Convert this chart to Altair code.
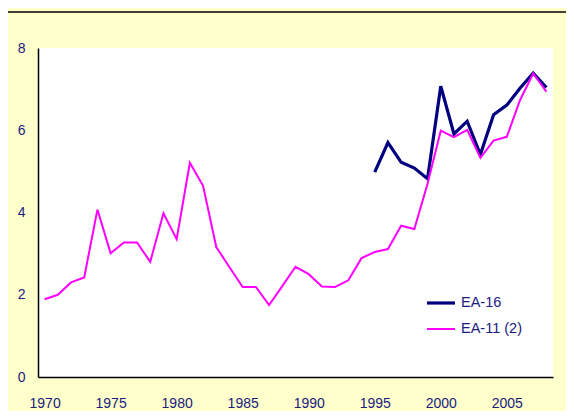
import altair as alt
import pandas as pd

years = list(range(1970, 2009))
ea11 = [1.89, 2.00, 2.30, 2.42, 4.07, 3.01, 3.27, 3.27, 2.80, 3.98,
        3.35, 5.21, 4.65, 3.16, 2.67, 2.19, 2.19, 1.75, 2.21, 2.68,
        2.50, 2.20, 2.19, 2.35, 2.89, 3.04, 3.11, 3.68, 3.60, 4.70,
        5.99, 5.83, 6.01, 5.33, 5.75, 5.84, 6.73, 7.38, 6.94]
ea16_years = list(range(1995, 2009))
ea16 = [4.98, 5.70, 5.22, 5.08, 4.82, 7.07, 5.91, 6.22, 5.41, 6.38,
        6.61, 7.02, 7.39, 7.04]

series_names = ["EA-16", "EA-11 (2)"]
series_colors = ["#000080", "#FF00FF"]
series_widths = [3.2, 2.0]
x_ticks = [1970, 1975, 1980, 1985, 1990, 1995, 2000, 2005]
y_ticks = [0, 2, 4, 6, 8]

df = pd.concat([
    pd.DataFrame({"year": ea16_years, "value": ea16, "series": series_names[0]}),
    pd.DataFrame({"year": years, "value": ea11, "series": series_names[1]}),
], ignore_index=True)

TEXT = "#1a1a80"
AXFONT = "Liberation Sans, Arial"

leg = dict(title=None, orient="none", legendX=387, legendY=242,
           symbolType="stroke", symbolSize=784, labelOffset=4,
           rowPadding=0, clipHeight=26, padding=0,
           labelFont="Liberation Sans, Arial", labelFontSize=14.5,
           labelColor=TEXT)

lines = alt.Chart(df).mark_line(strokeJoin="miter").encode(
    x=alt.X("year:Q",
            scale=alt.Scale(domain=[1969.5, 2008.5], nice=False, zero=False),
            axis=alt.Axis(values=x_ticks, format="d", ticks=False, tickSize=0,
                          grid=False, labelPadding=19, title=None,
                          domainColor="black", domainWidth=1.5)),
    y=alt.Y("value:Q",
            scale=alt.Scale(domain=[0, 8], nice=False),
            axis=alt.Axis(values=y_ticks, ticks=False, tickSize=0, grid=False,
                          labelPadding=13, title=None,
                          domainColor="black", domainWidth=1.5)),
    color=alt.Color("series:N",
                    scale=alt.Scale(domain=series_names, range=series_colors),
                    legend=alt.Legend(**leg)),
    strokeWidth=alt.StrokeWidth("series:N",
                                scale=alt.Scale(domain=series_names,
                                                range=series_widths),
                                legend=alt.Legend(**leg)),
    detail="series:N",
)

topline = alt.Chart(pd.DataFrame({"a": [0]})).mark_rule(
    color="black", strokeWidth=1.5).encode(
    x=alt.value(-30), x2=alt.value(528), y=alt.value(-36))

chart = alt.layer(lines, topline).properties(
    width=515, height=329,
    autosize=alt.AutoSizeParams(type="none"),
    padding={"left": 30, "top": 40, "right": 13, "bottom": 34},
    background="#FFFFCC",
).configure_view(fill="white", stroke=None).configure_axis(
    labelFont=AXFONT, labelFontSize=14, labelColor=TEXT,
)

chart.save("out.html", embed_options={"renderer": "svg", "actions": False})
